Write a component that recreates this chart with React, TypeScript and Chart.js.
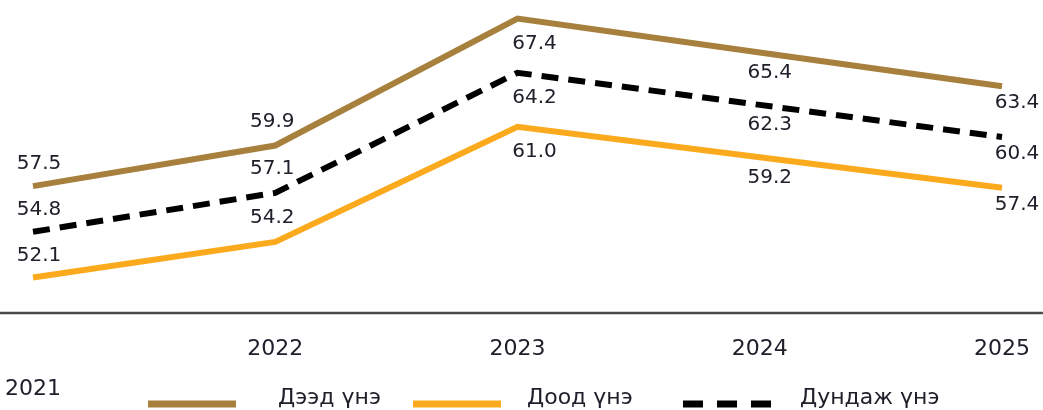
import React, { useEffect, useRef } from 'react';
import { Chart, registerables } from 'chart.js';

Chart.register(...registerables);

// ---- data ----
const years: string[] = ['2021', '2022', '2023', '2024', '2025'];
const highPrice: number[] = [57.5, 59.9, 67.4, 65.4, 63.4];
const lowPrice: number[] = [52.1, 54.2, 61.0, 59.2, 57.4];
const avgPrice: number[] = [54.8, 57.1, 64.2, 62.3, 60.4];
const seriesNames: string[] = ['Дээд үнэ', 'Доод үнэ', 'Дундаж үнэ'];

// ---- style ----
const FONT = "'DejaVu Sans', 'Open Sans', sans-serif";
const TEXT = '#20202c';
const BROWN = '#a8803e';
const ORANGE = '#fbaa1d';
const BLACK = '#000000';
const W = 1043;
const H = 410;

// label placement per category (relative to point)
const labelDx = [6, -3, 17, 10, 15];
const labelDy = [-22, -24, 25, 20, 17];

// legend layout
const legendSampleX = [148, 413, 683];
const legendTextX = [278, 527, 800];
const legendSampleW = 88;
const legendY = 404;

const pointLabels = {
  id: 'pointLabels',
  afterDatasetsDraw(chart: any) {
    const ctx = chart.ctx;
    ctx.save();
    ctx.font = `20px ${FONT}`;
    ctx.fillStyle = TEXT;
    ctx.textAlign = 'center';
    ctx.textBaseline = 'middle';
    chart.data.datasets.forEach((ds: any, di: number) => {
      const meta = chart.getDatasetMeta(di);
      meta.data.forEach((pt: any, i: number) => {
        const v = ds.data[i] as number;
        ctx.fillText(v.toFixed(1), pt.x + labelDx[i], pt.y + labelDy[i]);
      });
    });
    ctx.restore();
  },
};

const axisLine = {
  id: 'axisLine',
  beforeDatasetsDraw(chart: any) {
    const ctx = chart.ctx;
    const y = chart.chartArea.bottom;
    ctx.save();
    ctx.strokeStyle = '#4a4a4a';
    ctx.lineWidth = 2.5;
    ctx.beginPath();
    ctx.moveTo(0, y);
    ctx.lineTo(chart.width, y);
    ctx.stroke();
    ctx.restore();
  },
};

const customLegend = {
  id: 'customLegend',
  afterDraw(chart: any) {
    const ctx = chart.ctx;
    ctx.save();
    chart.data.datasets.forEach((ds: any, i: number) => {
      ctx.strokeStyle = ds.borderColor;
      ctx.lineWidth = 7;
      ctx.lineCap = 'butt';
      ctx.setLineDash(ds.borderDash && ds.borderDash.length ? [20, 14] : []);
      ctx.beginPath();
      ctx.moveTo(legendSampleX[i], legendY);
      ctx.lineTo(legendSampleX[i] + legendSampleW, legendY);
      ctx.stroke();
      ctx.setLineDash([]);
      ctx.font = `22px ${FONT}`;
      ctx.fillStyle = TEXT;
      ctx.textAlign = 'left';
      ctx.textBaseline = 'alphabetic';
      ctx.fillText(ds.label, legendTextX[i], legendY);
    });
    ctx.restore();
  },
};

export default function App() {
  const ref = useRef<HTMLCanvasElement | null>(null);

  useEffect(() => {
    if (!ref.current) return;
    const chart = new Chart(ref.current, {
      type: 'line',
      data: {
        labels: years,
        datasets: [
          {
            label: seriesNames[0],
            data: highPrice,
            borderColor: BROWN,
            backgroundColor: BROWN,
            borderWidth: 6,
            pointRadius: 0,
            tension: 0,
            fill: false,
          },
          {
            label: seriesNames[1],
            data: lowPrice,
            borderColor: ORANGE,
            backgroundColor: ORANGE,
            borderWidth: 6,
            pointRadius: 0,
            tension: 0,
            fill: false,
          },
          {
            label: seriesNames[2],
            data: avgPrice,
            borderColor: BLACK,
            backgroundColor: BLACK,
            borderWidth: 6,
            borderDash: [17, 10],
            pointRadius: 0,
            tension: 0,
            fill: false,
          },
        ],
      },
      options: {
        animation: false,
        responsive: false,
        maintainAspectRatio: false,
        layout: { padding: { left: 33, right: 41, top: 0, bottom: 0 } },
        plugins: {
          legend: { display: false },
          tooltip: { enabled: false },
        },
        scales: {
          x: {
            type: 'category',
            offset: false,
            grid: { display: false, drawTicks: false },
            border: { display: false },
            afterFit: (scale: any) => {
              scale.height = 97;
              scale.paddingLeft = 0;
              scale.paddingRight = 0;
            },
            ticks: {
              autoSkip: false,
              maxRotation: 0,
              minRotation: 0,
              padding: 16,
              color: TEXT,
              font: { family: FONT, size: 22, lineHeight: '40px' },
              callback: (_v: any, idx: number) => (idx === 0 ? ['', years[idx]] : years[idx]),
            },
          },
          y: {
            display: false,
            min: 50,
            max: 68.5,
          },
        },
      },
      plugins: [axisLine, pointLabels, customLegend],
    } as any);
    return () => chart.destroy();
  }, []);

  return (
    <div style={{ position: 'absolute', left: 0, top: 0, width: W, height: H, background: '#fff' }}>
      <canvas ref={ref} width={W} height={H} style={{ display: 'block', width: W, height: H }} />
    </div>
  );
}
